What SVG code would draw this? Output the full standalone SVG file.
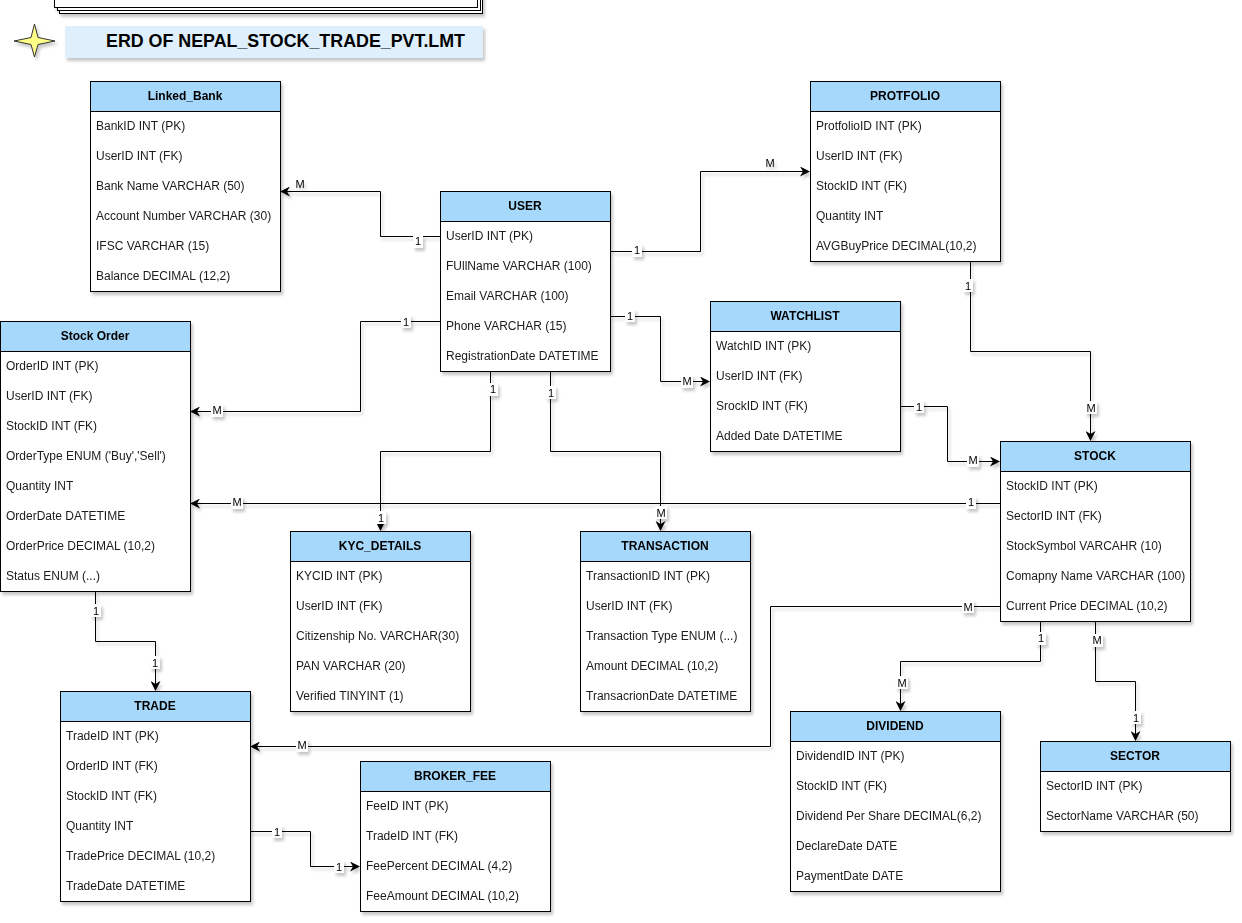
<svg xmlns="http://www.w3.org/2000/svg" width="1242" height="923" viewBox="0 0 1242 923">
<defs>
<filter id="sh" x="-10%" y="-10%" width="130%" height="130%">
<feDropShadow dx="2" dy="3" stdDeviation="1.5" flood-color="#000" flood-opacity="0.22"/>
</filter>
<marker id="arr" viewBox="0 0 10 10" refX="9" refY="5" markerWidth="10" markerHeight="10" markerUnits="userSpaceOnUse" orient="auto">
<path d="M0,0 L10,5 L0,10 L3,5 z" fill="#000"/>
</marker>
</defs>
<style>
text{font-family:"Liberation Sans",Arial,sans-serif;}
.hd{fill:#a6d8fb;stroke:#000;stroke-width:1;}
.bd{fill:#fff;stroke:#000;stroke-width:1;}
.ht{font-size:12px;font-weight:bold;text-anchor:middle;fill:#000;}
.rt{font-size:12px;fill:#1a1a1a;}
.ln{fill:none;stroke:#000;stroke-width:1;}
.lb{font-size:11px;text-anchor:middle;fill:#000;}
.lbg{fill:#fff;}
</style>
<rect width="1242" height="923" fill="#fff"/>

<g id="title">
<g filter="url(#sh)">
<rect x="59.5" y="-20.5" width="423" height="34" fill="#fff" stroke="#000"/>
<rect x="57.5" y="-23.5" width="423" height="34" fill="#fff" stroke="#000"/>
<rect x="54.5" y="-26.5" width="423" height="34" fill="#fff" stroke="#000"/>
</g>
<path d="M34.5,24 L38,37.5 L55,41 L38,44.5 L34.5,57 L31,44.5 L14,41 L31,37.5 Z" fill="#ffff88" stroke="#333" stroke-width="1" filter="url(#sh)"/>
<rect x="65" y="26" width="418" height="32" fill="#dff0fc" filter="url(#sh)"/>
<text x="106" y="46.5" font-size="18" font-weight="bold" fill="#000" textLength="359" lengthAdjust="spacingAndGlyphs">ERD OF NEPAL_STOCK_TRADE_PVT.LMT</text>
</g>

<g id="connectors" filter="url(#sh)">
<path class="ln" d="M440,236.5 H380.5 V191.5 H281" marker-end="url(#arr)"/>
<path class="ln" d="M610,251.5 H700.5 V171.5 H809" marker-end="url(#arr)"/>
<path class="ln" d="M610,316.5 H660.5 V381.5 H709" marker-end="url(#arr)"/>
<path class="ln" d="M440,321.5 H360.5 V411.5 H191" marker-end="url(#arr)"/>
<path class="ln" d="M490.5,371 V451.5 H380.5 V530" marker-end="url(#arr)"/>
<path class="ln" d="M550.5,371 V451.5 H660.5 V530" marker-end="url(#arr)"/>
<path class="ln" d="M970.5,261 V351.5 H1090.5 V440" marker-end="url(#arr)"/>
<path class="ln" d="M900,406.5 H947.5 V461.5 H999" marker-end="url(#arr)"/>
<path class="ln" d="M1000,503.5 H191" marker-end="url(#arr)"/>
<path class="ln" d="M1000,606.5 H770.5 V746.5 H251" marker-end="url(#arr)"/>
<path class="ln" d="M1040.5,621 V661.5 H900.5 V710" marker-end="url(#arr)"/>
<path class="ln" d="M1095.5,621 V681.5 H1135.5 V740" marker-end="url(#arr)"/>
<path class="ln" d="M95.5,591 V641.5 H155.5 V690" marker-end="url(#arr)"/>
<path class="ln" d="M250,831.5 H310.5 V866.5 H359" marker-end="url(#arr)"/>

<rect class="lbg" x="413" y="235" width="10" height="13"/><text class="lb" x="418" y="245">1</text>
<text class="lb" x="300" y="188">M</text>
<rect class="lbg" x="632" y="244" width="10" height="13"/><text class="lb" x="637" y="254">1</text>
<text class="lb" x="770" y="167">M</text>
<rect class="lbg" x="625" y="309" width="10" height="13"/><text class="lb" x="630" y="320">1</text>
<rect class="lbg" x="681" y="375" width="12" height="13"/><text class="lb" x="687" y="385">M</text>
<rect class="lbg" x="401" y="315" width="10" height="13"/><text class="lb" x="406" y="326">1</text>
<rect class="lbg" x="211" y="404" width="12" height="13"/><text class="lb" x="217" y="414">M</text>
<rect class="lbg" x="488" y="383" width="10" height="13"/><text class="lb" x="493" y="393">1</text>
<rect class="lbg" x="376" y="511" width="10" height="13"/><text class="lb" x="381" y="522">1</text>
<rect class="lbg" x="546" y="386" width="10" height="13"/><text class="lb" x="551" y="397">1</text>
<rect class="lbg" x="655" y="506" width="12" height="13"/><text class="lb" x="661" y="517">M</text>
<rect class="lbg" x="963" y="279" width="10" height="13"/><text class="lb" x="968" y="290">1</text>
<rect class="lbg" x="1085" y="401" width="12" height="13"/><text class="lb" x="1091" y="412">M</text>
<rect class="lbg" x="914" y="400" width="10" height="13"/><text class="lb" x="919" y="411">1</text>
<rect class="lbg" x="967" y="454" width="12" height="13"/><text class="lb" x="973" y="464">M</text>
<rect class="lbg" x="966" y="496" width="10" height="13"/><text class="lb" x="971" y="506">1</text>
<rect class="lbg" x="231" y="496" width="12" height="13"/><text class="lb" x="237" y="506">M</text>
<rect class="lbg" x="962" y="600" width="12" height="13"/><text class="lb" x="968" y="611">M</text>
<rect class="lbg" x="296" y="739" width="12" height="13"/><text class="lb" x="302" y="749">M</text>
<rect class="lbg" x="1036" y="632" width="10" height="13"/><text class="lb" x="1041" y="642">1</text>
<rect class="lbg" x="896" y="676" width="12" height="13"/><text class="lb" x="902" y="687">M</text>
<rect class="lbg" x="1091" y="634" width="12" height="13"/><text class="lb" x="1097" y="644">M</text>
<rect class="lbg" x="1131" y="711" width="10" height="13"/><text class="lb" x="1136" y="722">1</text>
<rect class="lbg" x="91" y="604" width="10" height="13"/><text class="lb" x="96" y="615">1</text>
<rect class="lbg" x="150" y="656" width="10" height="13"/><text class="lb" x="155" y="667">1</text>
<rect class="lbg" x="272" y="825" width="10" height="13"/><text class="lb" x="277" y="836">1</text>
<rect class="lbg" x="334" y="860" width="10" height="13"/><text class="lb" x="339" y="871">1</text>
</g>

<g id="linked_bank" filter="url(#sh)">
<rect class="bd" x="90.5" y="81.5" width="190" height="210"/>
<rect class="hd" x="90.5" y="81.5" width="190" height="30"/>
<text class="ht" x="185" y="100">Linked_Bank</text>
<text class="rt" x="96" y="130">BankID INT (PK)</text>
<text class="rt" x="96" y="160">UserID INT (FK)</text>
<text class="rt" x="96" y="190">Bank Name VARCHAR (50)</text>
<text class="rt" x="96" y="220">Account Number VARCHAR (30)</text>
<text class="rt" x="96" y="250">IFSC VARCHAR (15)</text>
<text class="rt" x="96" y="280">Balance DECIMAL (12,2)</text>
</g>

<g id="user" filter="url(#sh)">
<rect class="bd" x="440.5" y="191.5" width="170" height="180"/>
<rect class="hd" x="440.5" y="191.5" width="170" height="30"/>
<text class="ht" x="525" y="210">USER</text>
<text class="rt" x="446" y="240">UserID INT (PK)</text>
<text class="rt" x="446" y="270">FUllName VARCHAR (100)</text>
<text class="rt" x="446" y="300">Email VARCHAR (100)</text>
<text class="rt" x="446" y="330">Phone VARCHAR (15)</text>
<text class="rt" x="446" y="360">RegistrationDate DATETIME</text>
</g>

<g id="protfolio" filter="url(#sh)">
<rect class="bd" x="810.5" y="81.5" width="190" height="180"/>
<rect class="hd" x="810.5" y="81.5" width="190" height="30"/>
<text class="ht" x="905" y="100">PROTFOLIO</text>
<text class="rt" x="816" y="130">ProtfolioID INT (PK)</text>
<text class="rt" x="816" y="160">UserID INT (FK)</text>
<text class="rt" x="816" y="190">StockID INT (FK)</text>
<text class="rt" x="816" y="220">Quantity INT</text>
<text class="rt" x="816" y="250">AVGBuyPrice DECIMAL(10,2)</text>
</g>

<g id="stock_order" filter="url(#sh)">
<rect class="bd" x="0.5" y="321.5" width="190" height="270"/>
<rect class="hd" x="0.5" y="321.5" width="190" height="30"/>
<text class="ht" x="95" y="340">Stock Order</text>
<text class="rt" x="6" y="370">OrderID INT (PK)</text>
<text class="rt" x="6" y="400">UserID INT (FK)</text>
<text class="rt" x="6" y="430">StockID INT (FK)</text>
<text class="rt" x="6" y="460">OrderType ENUM ('Buy','Sell')</text>
<text class="rt" x="6" y="490">Quantity INT</text>
<text class="rt" x="6" y="520">OrderDate DATETIME</text>
<text class="rt" x="6" y="550">OrderPrice DECIMAL (10,2)</text>
<text class="rt" x="6" y="580">Status ENUM (...)</text>
</g>

<g id="watchlist" filter="url(#sh)">
<rect class="bd" x="710.5" y="301.5" width="190" height="150"/>
<rect class="hd" x="710.5" y="301.5" width="190" height="30"/>
<text class="ht" x="805" y="320">WATCHLIST</text>
<text class="rt" x="716" y="350">WatchID INT (PK)</text>
<text class="rt" x="716" y="380">UserID INT (FK)</text>
<text class="rt" x="716" y="410">SrockID INT (FK)</text>
<text class="rt" x="716" y="440">Added Date DATETIME</text>
</g>

<g id="stock" filter="url(#sh)">
<rect class="bd" x="1000.5" y="441.5" width="190" height="180"/>
<rect class="hd" x="1000.5" y="441.5" width="190" height="30"/>
<text class="ht" x="1095" y="460">STOCK</text>
<text class="rt" x="1006" y="490">StockID INT (PK)</text>
<text class="rt" x="1006" y="520">SectorID INT (FK)</text>
<text class="rt" x="1006" y="550">StockSymbol VARCAHR (10)</text>
<text class="rt" x="1006" y="580">Comapny Name VARCHAR (100)</text>
<text class="rt" x="1006" y="610">Current Price DECIMAL (10,2)</text>
</g>

<g id="kyc_details" filter="url(#sh)">
<rect class="bd" x="290.5" y="531.5" width="180" height="180"/>
<rect class="hd" x="290.5" y="531.5" width="180" height="30"/>
<text class="ht" x="380" y="550">KYC_DETAILS</text>
<text class="rt" x="296" y="580">KYCID INT (PK)</text>
<text class="rt" x="296" y="610">UserID INT (FK)</text>
<text class="rt" x="296" y="640">Citizenship No. VARCHAR(30)</text>
<text class="rt" x="296" y="670">PAN VARCHAR (20)</text>
<text class="rt" x="296" y="700">Verified TINYINT (1)</text>
</g>

<g id="transaction" filter="url(#sh)">
<rect class="bd" x="580.5" y="531.5" width="170" height="180"/>
<rect class="hd" x="580.5" y="531.5" width="170" height="30"/>
<text class="ht" x="665" y="550">TRANSACTION</text>
<text class="rt" x="586" y="580">TransactionID INT (PK)</text>
<text class="rt" x="586" y="610">UserID INT (FK)</text>
<text class="rt" x="586" y="640">Transaction Type ENUM (...)</text>
<text class="rt" x="586" y="670">Amount DECIMAL (10,2)</text>
<text class="rt" x="586" y="700">TransacrionDate DATETIME</text>
</g>

<g id="trade" filter="url(#sh)">
<rect class="bd" x="60.5" y="691.5" width="190" height="210"/>
<rect class="hd" x="60.5" y="691.5" width="190" height="30"/>
<text class="ht" x="155" y="710">TRADE</text>
<text class="rt" x="66" y="740">TradeID INT (PK)</text>
<text class="rt" x="66" y="770">OrderID INT (FK)</text>
<text class="rt" x="66" y="800">StockID INT (FK)</text>
<text class="rt" x="66" y="830">Quantity INT</text>
<text class="rt" x="66" y="860">TradePrice DECIMAL (10,2)</text>
<text class="rt" x="66" y="890">TradeDate DATETIME</text>
</g>

<g id="broker_fee" filter="url(#sh)">
<rect class="bd" x="360.5" y="761.5" width="190" height="150"/>
<rect class="hd" x="360.5" y="761.5" width="190" height="30"/>
<text class="ht" x="455" y="780">BROKER_FEE</text>
<text class="rt" x="366" y="810">FeeID INT (PK)</text>
<text class="rt" x="366" y="840">TradeID INT (FK)</text>
<text class="rt" x="366" y="870">FeePercent DECIMAL (4,2)</text>
<text class="rt" x="366" y="900">FeeAmount DECIMAL (10,2)</text>
</g>

<g id="dividend" filter="url(#sh)">
<rect class="bd" x="790.5" y="711.5" width="210" height="180"/>
<rect class="hd" x="790.5" y="711.5" width="210" height="30"/>
<text class="ht" x="895" y="730">DIVIDEND</text>
<text class="rt" x="796" y="760">DividendID INT (PK)</text>
<text class="rt" x="796" y="790">StockID INT (FK)</text>
<text class="rt" x="796" y="820">Dividend Per Share DECIMAL(6,2)</text>
<text class="rt" x="796" y="850">DeclareDate DATE</text>
<text class="rt" x="796" y="880">PaymentDate DATE</text>
</g>

<g id="sector" filter="url(#sh)">
<rect class="bd" x="1040.5" y="741.5" width="190" height="90"/>
<rect class="hd" x="1040.5" y="741.5" width="190" height="30"/>
<text class="ht" x="1135" y="760">SECTOR</text>
<text class="rt" x="1046" y="790">SectorID INT (PK)</text>
<text class="rt" x="1046" y="820">SectorName VARCHAR (50)</text>
</g>
</svg>
